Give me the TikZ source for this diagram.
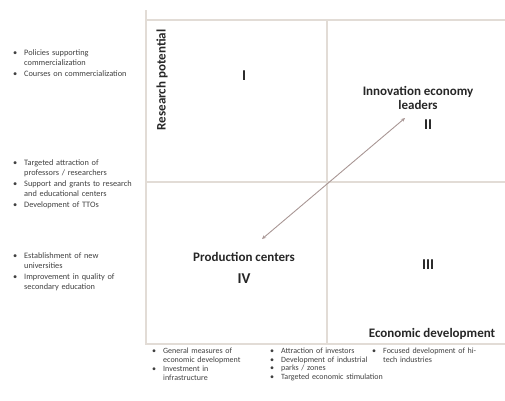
\documentclass[tikz,border=0pt]{standalone}
\usepackage{fontspec}
\setmainfont{Carlito}
\usetikzlibrary{arrows.meta}
\definecolor{gridline}{RGB}{226,220,214}
\definecolor{trend}{RGB}{168,150,148}
\newcommand\bul[1]{\noindent\makebox[11pt][l]{\textbullet}%
  \begin{tabular}[t]{@{}l@{}}#1\end{tabular}\par}
\tikzset{
  lbl/.style={font=\bfseries\fontsize{13}{14.5}\selectfont,align=center,text=black!85},
  num/.style={font=\bfseries\fontsize{15}{17}\selectfont,text=black!85},
  lst/.style={anchor=north west,inner sep=0pt,text width=160pt,align=left,
    font=\fontsize{8.3}{10}\selectfont,text=black!75},
  sublst/.style={lst,font=\fontsize{8}{8.8}\selectfont},
}
\begin{document}
\begin{tikzpicture}[x=1pt,y=-1pt]
\useasboundingbox (0,0) rectangle (505,400);
\coordinate (O) at (146,344);
\coordinate (T) at (146,10);
\coordinate (R) at (505,344);
\coordinate (A) at (146,20);
\coordinate (B) at (505,20);
\coordinate (M) at (146,182);
\coordinate (N) at (505,182);
\coordinate (U) at (327,20);
\coordinate (D) at (327,344);
\draw[gridline,line width=1.3pt] (T)--(O)--(R) (A)--(B) (M)--(N) (U)--(D);
\node[lbl,rotate=90] (rp) at (162,80) {Research potential};
\node[lbl,anchor=base] (ed) at (432,337) {Economic development};
\node[num] (q1) at (244,76) {I};
\node[lbl] (iel) at (418,98) {Innovation economy\\leaders};
\node[num] (q2) at (428,125) {II};
\node[num] (q3) at (428,265) {III};
\node[lbl] (pc) at (244,257) {Production centers};
\node[num] (q4) at (244,279) {IV};
\coordinate (lo) at (262,239);
\coordinate (hi) at (405,118);
\draw[trend,line width=.9pt,{Stealth[length=4pt,width=3.5pt]}-{Stealth[length=4pt,width=3.5pt]}] (lo)--(hi);
\node[lst] (l1) at (13,48) {\bul{Policies supporting\\commercialization}\bul{Courses on commercialization}};
\node[lst] (l2) at (13,158) {\bul{Targeted attraction of\\professors / researchers}\bul{Support and grants to research\\and educational centers}\bul{Development of TTOs}};
\node[lst] (l3) at (13,251) {\bul{Establishment of new\\universities}\bul{Improvement in quality of\\secondary education}};
\node[sublst] (b1) at (152,347) {\bul{General measures of\\economic development}\bul{Investment in\\infrastructure}};
\node[sublst] (b2) at (270,347) {\bul{Attraction of investors}\bul{Development of industrial}\bul{parks / zones}\bul{Targeted economic stimulation}};
\node[sublst] (b3) at (372,347) {\bul{Focused development of hi-\\tech industries}};
\end{tikzpicture}
\end{document}
